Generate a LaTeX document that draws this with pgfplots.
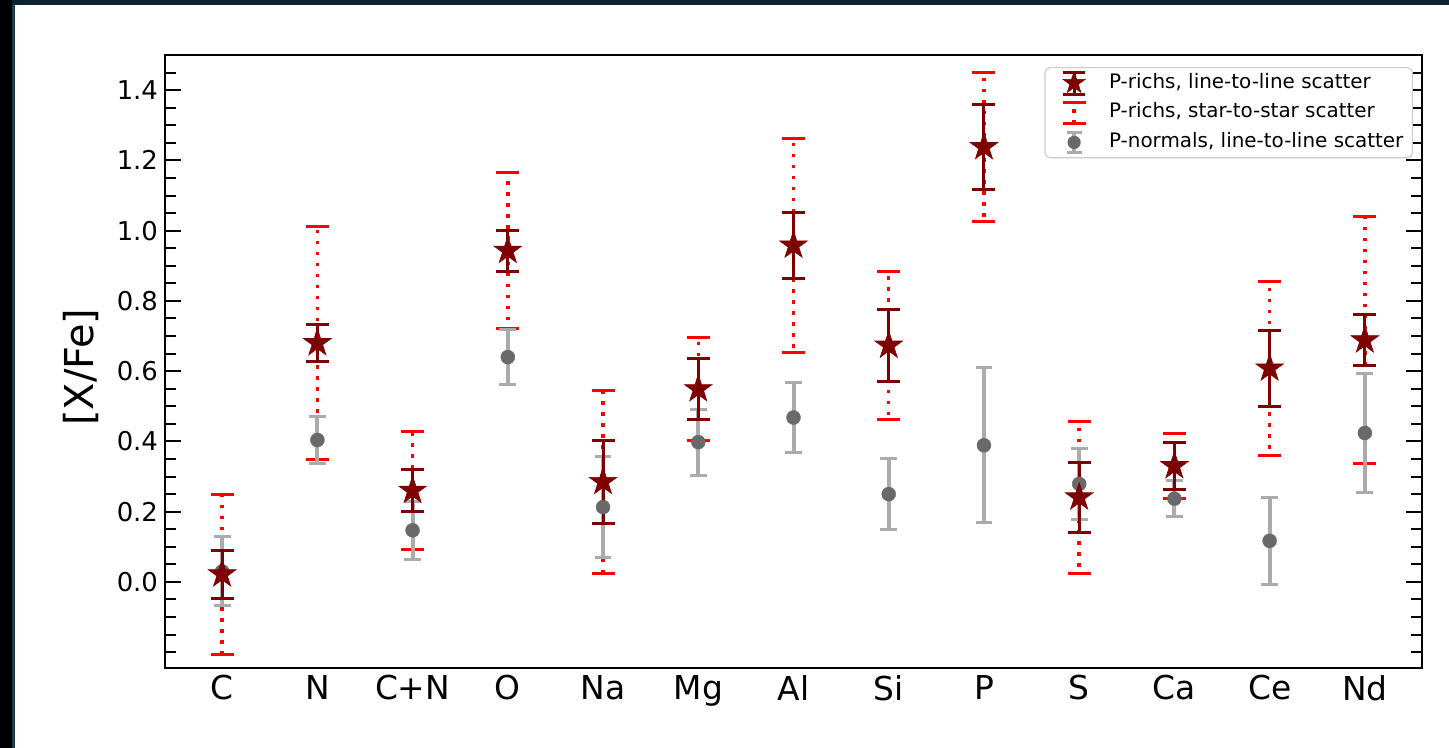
\documentclass[border=0pt]{standalone}
\usepackage{fontspec}
\setmainfont{DejaVu Sans}
\usepackage{pgfplots}
\usepackage{pgfplotstable}
\pgfplotsset{compat=1.18}

\definecolor{drk}{HTML}{7F0000}
\definecolor{rd}{HTML}{FF0000}
\definecolor{dgr}{HTML}{696969}
\definecolor{lgr}{HTML}{ABABAB}
\definecolor{legedge}{HTML}{CCCCCC}
\definecolor{bnavy}{HTML}{0C2230}
\definecolor{bteal}{HTML}{1E3E50}

\pgfdeclareplotmark{fstar}{%
  \pgfpathmoveto{\pgfpointpolar{90}{\pgfplotmarksize}}%
  \pgfpathlineto{\pgfpointpolar{126}{0.382*\pgfplotmarksize}}%
  \pgfpathlineto{\pgfpointpolar{162}{\pgfplotmarksize}}%
  \pgfpathlineto{\pgfpointpolar{198}{0.382*\pgfplotmarksize}}%
  \pgfpathlineto{\pgfpointpolar{234}{\pgfplotmarksize}}%
  \pgfpathlineto{\pgfpointpolar{270}{0.382*\pgfplotmarksize}}%
  \pgfpathlineto{\pgfpointpolar{306}{\pgfplotmarksize}}%
  \pgfpathlineto{\pgfpointpolar{342}{0.382*\pgfplotmarksize}}%
  \pgfpathlineto{\pgfpointpolar{18}{\pgfplotmarksize}}%
  \pgfpathlineto{\pgfpointpolar{54}{0.382*\pgfplotmarksize}}%
  \pgfpathclose
  \pgfusepathqfillstroke
}

% x: category index; y: P-rich mean; e1: line-to-line; e2: star-to-star; g: P-normal mean; e3: its error
\pgfplotstableread{
x  y     e1    e2    g     e3
0  0.022 0.068 0.228 0.030 0.098
1  0.680 0.052 0.332 0.404 0.068
2  0.260 0.060 0.168 0.147 0.082
3  0.943 0.058 0.222 0.640 0.079
4  0.285 0.118 0.260 0.213 0.143
5  0.549 0.087 0.146 0.398 0.094
6  0.958 0.093 0.304 0.468 0.100
7  0.673 0.102 0.210 0.250 0.100
8  1.238 0.121 0.213 0.389 0.220
9  0.241 0.099 0.217 0.279 0.101
10 0.330 0.068 0.092 0.237 0.052
11 0.608 0.108 0.248 0.117 0.123
12 0.688 0.072 0.352 0.424 0.168
}\data

\begin{document}
\begin{tikzpicture}
\useasboundingbox (0,0) rectangle (724.5bp,374bp);
\fill[black] (0,0) rectangle (6bp,374bp);
\fill[bteal] (6bp,0) rectangle (7.5bp,374bp);
\fill[bnavy] (6bp,371.5bp) rectangle (724.5bp,374bp);
\begin{axis}[
  at={(82.5bp,40bp)}, anchor=south west,
  scale only axis, width=628.5bp, height=306.5bp,
  xmin=-0.6, xmax=12.6, ymin=-0.245, ymax=1.5,
  xtick={0,1,2,3,4,5,6,7,8,9,10,11,12},
  xticklabels={C,N,C+N,O,Na,Mg,Al,Si,P,S,Ca,Ce,Nd},
  ytick={0,0.2,0.4,0.6,0.8,1.0,1.2,1.4},
  minor ytick={-0.2,-0.15,-0.1,-0.05,0.05,0.1,0.15,0.25,0.3,0.35,0.45,0.5,0.55,0.65,0.7,0.75,0.85,0.9,0.95,1.05,1.1,1.15,1.25,1.3,1.35,1.45},
  ytick pos=both, yticklabel pos=left,
  xtick style={draw=none},
  tick align=inside,
  major tick length=8bp, minor tick length=5.5bp,
  tick style={black, line width=1bp},
  axis line style={line width=1.2bp},
  yticklabel style={font=\fontsize{13}{13}\selectfont,
    /pgf/number format/.cd, fixed, fixed zerofill, precision=1, assume math mode=true},
  xticklabel style={font=\fontsize{16.5}{16.5}\selectfont},
  ylabel={[X/Fe]},
  ylabel style={font=\fontsize{20}{20}\selectfont, at={(axis description cs:-0.0668,0.491)}, anchor=center},
  legend cell align=left,
  legend style={at={(axis description cs:0.9928,0.9804)}, anchor=north east,
    draw=legedge, line width=0.6bp, rounded corners=2.5bp, fill=white,
    inner xsep=4.5bp, inner ysep=1.2bp, row sep=1.85bp,
    font=\fontsize{10}{12}\selectfont,
    nodes={inner sep=0pt, text height=7.3bp, text depth=2.1bp}},
]
\addlegendimage{legend image code/.code={
  \draw[drk, line width=1.5bp] (10bp,-5.5bp) -- (10bp,5.5bp);
  \draw[drk, line width=1.5bp] (4.5bp,5.5bp) -- (15.5bp,5.5bp);
  \draw[drk, line width=1.5bp] (4.5bp,-5.5bp) -- (15.5bp,-5.5bp);
  \path[draw=none] plot[mark=fstar, mark size=5.8bp, mark options={fill=drk, draw=drk, line width=0.3bp}] coordinates {(10bp,0bp)};
  \path[draw=none, fill=none] (0bp,-6.5bp) rectangle (27.5bp,6.5bp);
}}
\addlegendentry{P-richs, line-to-line scatter}
\addlegendimage{legend image code/.code={
  \draw[rd, line width=1.75bp, dash pattern=on 1.75bp off 3.5bp] (10bp,-5.2bp) -- (10bp,5.2bp);
  \draw[rd, line width=1.5bp] (4.2bp,5.2bp) -- (15.8bp,5.2bp);
  \draw[rd, line width=1.5bp] (4.2bp,-5.2bp) -- (15.8bp,-5.2bp);
  \path[draw=none, fill=none] (0bp,-6.5bp) rectangle (27.5bp,6.5bp);
}}
\addlegendentry{P-richs, star-to-star scatter}
\addlegendimage{legend image code/.code={
  \draw[lgr, line width=2bp] (10bp,-4.8bp) -- (10bp,4.8bp);
  \draw[lgr, line width=1.5bp] (6.25bp,4.8bp) -- (13.75bp,4.8bp);
  \draw[lgr, line width=1.5bp] (6.25bp,-4.8bp) -- (13.75bp,-4.8bp);
  \fill[dgr] (10bp,0bp) circle (3bp);
  \path[draw=none, fill=none] (0bp,-6.5bp) rectangle (27.5bp,6.5bp);
}}
\addlegendentry{P-normals, line-to-line scatter}

\addplot[forget plot, only marks, mark=none,
  error bars/.cd, y dir=both, y explicit,
  error bar style={rd, line width=1.75bp, dash pattern=on 1.75bp off 3.75bp},
  error mark options={rd, solid, rotate=90, line width=1.5bp, mark size=5.75bp}]
  table[x=x, y=y, y error=e2]{\data};

\addplot[forget plot, only marks, mark=*, mark size=3.5bp,
  mark options={fill=dgr, draw=dgr, line width=0.2bp},
  error bars/.cd, y dir=both, y explicit,
  error bar style={lgr, line width=2bp},
  error mark options={lgr, rotate=90, line width=1.5bp, mark size=4.2bp}]
  table[x=x, y=g, y error=e3]{\data};

\addplot[forget plot, only marks, mark=fstar, mark size=7.3bp,
  mark options={fill=drk, draw=drk, line width=0.3bp},
  error bars/.cd, y dir=both, y explicit,
  error bar style={drk, line width=1.5bp},
  error mark options={drk, rotate=90, line width=1.5bp, mark size=5.75bp}]
  table[x=x, y=y, y error=e1]{\data};
\end{axis}
\end{tikzpicture}
\end{document}
